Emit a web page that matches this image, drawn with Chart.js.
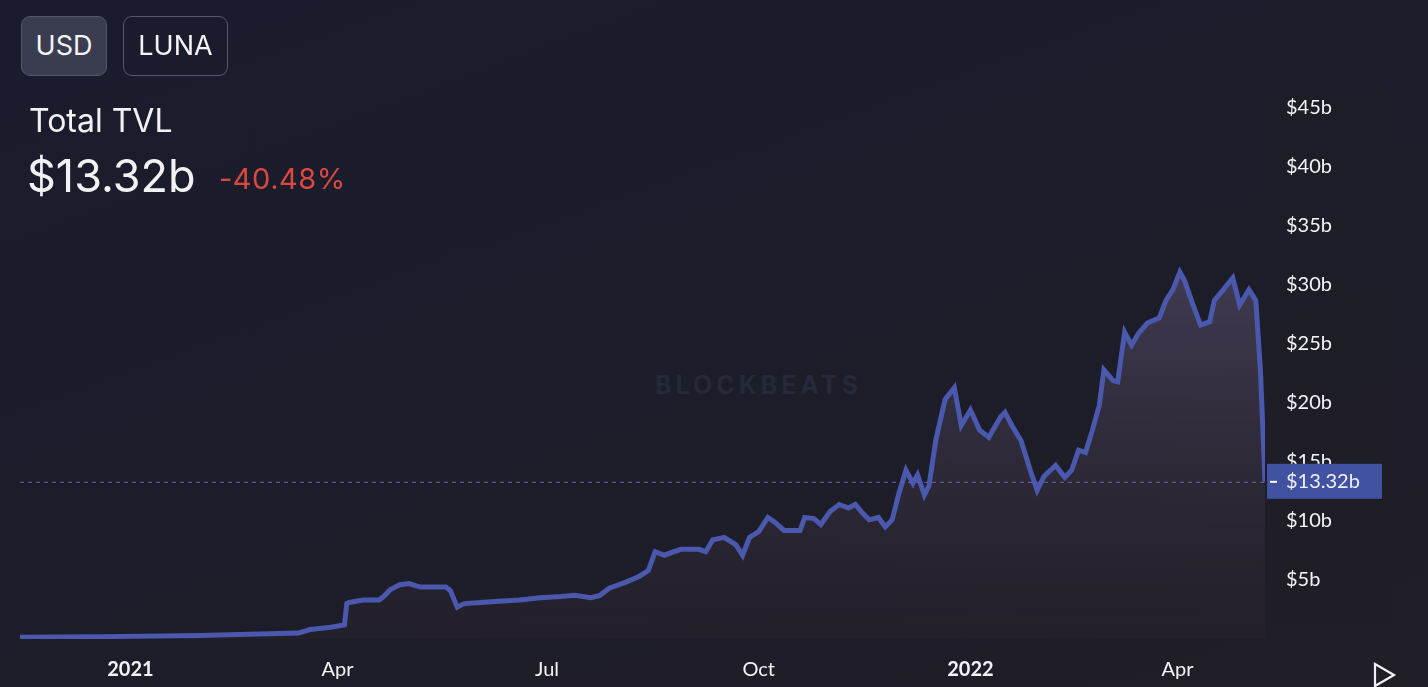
<!DOCTYPE html>
<html>
<head>
<meta charset="utf-8">
<script src="https://cdn.jsdelivr.net/npm/chart.js@4"></script>
<style>
  html, body { margin: 0; padding: 0; }
  body {
    width: 1428px; height: 687px; overflow: hidden; position: relative;
    background: linear-gradient(160deg, #1a1b2c 0%, #1c1d2b 45%, #201e26 100%);
    font-family: Inter, "Noto Sans", sans-serif; color: #f2f2f5;
  }
  #wrap { position: absolute; left: 0; top: 0; width: 1428px; height: 687px; }
  .btn {
    position: absolute; top: 16px; height: 60px; box-sizing: border-box;
    border: 1.5px solid #55576b; border-radius: 9px; font-size: 27px;
    line-height: 57px; text-align: center; color: #f4f4f6;
  }
  #usd { left: 21px; width: 86px; background: #3a3c50; }
  #luna { left: 123px; width: 105px; }
  #title { position: absolute; left: 29px; top: 101px; font-size: 32px; }
  #value { position: absolute; left: 27px; top: 148px; font-size: 45px; }
  #change { position: absolute; left: 219px; top: 161px; font-size: 29px; color: #d9493f; letter-spacing: 0.5px; }
  #mark { position: absolute; left: 655px; top: 370px; font-size: 25px; letter-spacing: 4px; color: #262939; font-weight: bold; }
  #play { position: absolute; left: 1372px; top: 662px; }
</style>
</head>
<body>
<div id="mark">BLOCKBEATS</div>
<div id="wrap"><canvas id="tvlChart" width="1428" height="687"></canvas></div>
<div class="btn" id="usd">USD</div>
<div class="btn" id="luna">LUNA</div>
<div id="title">Total TVL</div>
<div id="value">$13.32b</div>
<div id="change">-40.48%</div>
<svg id="play" width="26" height="26" viewBox="0 0 26 26"><path d="M3 2 L22 13 L3 24 Z" fill="none" stroke="#f2f2f5" stroke-width="2.2"/></svg>
<script>
// days counted from 2021-01-01
const days = [-48, -13, 30, 73, 78, 87, 93, 94, 95, 101, 108, 110, 113, 117, 121, 126, 137, 139, 142, 145,
  152, 160, 169, 178, 187, 193, 200, 204, 208, 215, 221, 225, 228, 232, 239, 247, 250, 253, 258, 263,
  266, 269, 273, 277, 280, 284, 291, 293, 297, 300, 304, 308, 312, 315, 318, 321, 325, 328, 331, 334,
  337, 340, 342, 345, 347, 350, 354, 358, 361, 365, 369, 373, 378, 380, 383, 387, 391, 394, 397, 402,
  406, 409, 412, 415, 418, 421, 423, 427, 429, 432, 435, 438, 442, 447, 450, 453, 456, 458, 461, 465,
  469, 471, 474, 479, 482, 486, 489, 491, 493]
const tvl = [0.15, 0.2, 0.3, 0.5, 0.8, 1.0, 1.2, 3.0, 3.1, 3.3, 3.3, 3.6, 4.2, 4.6, 4.7, 4.4, 4.4, 4.1, 2.7, 3.0,
  3.1, 3.2, 3.3, 3.5, 3.6, 3.7, 3.5, 3.7, 4.3, 4.8, 5.3, 5.8, 7.4, 7.1, 7.6, 7.6, 7.4, 8.4, 8.6, 8.0,
  7.1, 8.6, 9.1, 10.3, 9.9, 9.2, 9.2, 10.3, 10.2, 9.7, 10.8, 11.4, 11.1, 11.4, 10.7, 10.1, 10.3, 9.5, 10.1, 12.4,
  14.3, 13.2, 13.9, 12.2, 13.0, 16.9, 20.3, 21.3, 18.1, 19.4, 17.7, 17.1, 18.8, 19.2, 18.1, 16.8, 14.3, 12.6, 13.8, 14.7,
  13.7, 14.3, 16.0, 15.8, 17.7, 19.8, 22.8, 21.9, 21.8, 26.0, 24.9, 25.9, 26.8, 27.2, 28.7, 29.6, 31.1, 30.4, 28.7, 26.6,
  26.9, 28.7, 29.4, 30.6, 28.3, 29.6, 28.7, 22.8, 13.32]
const tickDays = [0, 90, 181, 273, 365, 455]
const tickLabels = ['2021', 'Apr', 'Jul', 'Oct', '2022', 'Apr']
const currentTvl = 13.32

const lineColor = '#4a59ad'

const priceLine = {
  id: 'priceLine',
  afterDraw(chart) {
    const ctx = chart.ctx
    const area = chart.chartArea
    const y = chart.scales.y.getPixelForValue(currentTvl)
    ctx.save()
    ctx.strokeStyle = '#6b5fb5'
    ctx.lineWidth = 1
    ctx.setLineDash([4, 4])
    ctx.beginPath()
    ctx.moveTo(area.left, y + 0.5)
    ctx.lineTo(area.right, y + 0.5)
    ctx.stroke()
    ctx.setLineDash([])
    ctx.fillStyle = '#4152a0'
    ctx.fillRect(area.right + 2, y - 18, 115, 35)
    ctx.fillStyle = '#ffffff'
    ctx.fillRect(area.right + 5, y - 1, 7, 2)
    ctx.font = '20px Lato, "DejaVu Sans", sans-serif'
    ctx.textBaseline = 'middle'
    ctx.fillStyle = '#eef0fa'
    ctx.fillText('$' + currentTvl.toFixed(2) + 'b', area.right + 21, y)
    ctx.restore()
  }
}

const axisPanel = {
  id: 'axisPanel',
  beforeDraw(chart) {
    const ctx = chart.ctx
    const area = chart.chartArea
    ctx.save()
    ctx.fillStyle = 'rgba(30,31,38,0.45)'
    ctx.fillRect(area.right, area.top + 40, 125, area.bottom - area.top - 58)
    ctx.restore()
  }
}

const ctx = document.getElementById('tvlChart').getContext('2d')

Chart.defaults.font.family = 'Lato, "DejaVu Sans", sans-serif'
Chart.defaults.font.size = 20
Chart.defaults.color = '#f4f4f6'

new Chart(ctx, {
  type: 'line',
  data: {
    datasets: [{
      data: days.map((d, i) => ({ x: d, y: tvl[i] })),
      borderColor: lineColor,
      borderWidth: 5,
      pointRadius: 0,
      tension: 0,
      fill: 'origin',
      backgroundColor: function (context) {
        const area = context.chart.chartArea
        if (!area) return 'rgba(80,70,100,0.3)'
        const g = context.chart.ctx.createLinearGradient(0, area.top + 200, 0, area.bottom)
        g.addColorStop(0, 'rgba(100,88,120,0.55)')
        g.addColorStop(1, 'rgba(50,40,50,0.25)')
        return g
      }
    }]
  },
  options: {
    responsive: false,
    animation: false,
    layout: { padding: { top: 49, left: 20, right: 0, bottom: 0 } },
    plugins: { legend: { display: false }, tooltip: { enabled: false } },
    scales: {
      x: {
        type: 'linear',
        min: -48,
        max: 493,
        grid: { display: false },
        border: { display: false },
        afterBuildTicks(scale) {
          scale.ticks = tickDays.map(v => ({ value: v }))
        },
        afterFit(scale) { scale.height = 48 },
        ticks: {
          padding: 11,
          maxRotation: 0,
          callback: function (v) {
            const i = tickDays.indexOf(v)
            return i >= 0 ? tickLabels[i] : ''
          },
          font: function (c) {
            const lbl = tickLabels[c.index] || ''
            return { weight: /^\d+$/.test(lbl) ? 'bold' : 'normal', size: 20 }
          }
        }
      },
      y: {
        position: 'right',
        min: 0,
        max: 50,
        grid: { display: false },
        border: { display: false },
        afterFit(scale) { scale.width = 163 },
        ticks: {
          stepSize: 5,
          padding: 13,
          crossAlign: 'near',
          callback: function (v) {
            return (v === 0 || v === 50) ? '' : '$' + v + 'b'
          }
        }
      }
    }
  },
  plugins: [axisPanel, priceLine]
})
</script>
</body>
</html>
